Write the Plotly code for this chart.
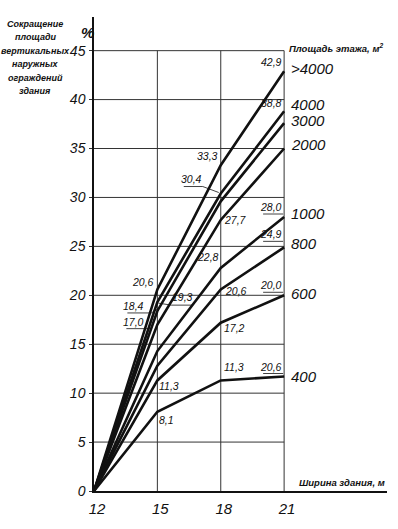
import plotly.graph_objects as go

# ---- data ----
widths = [12, 15, 18, 21]
x_ticks = [12, 15, 18, 21]
y_ticks = [0, 5, 10, 15, 20, 25, 30, 35, 40, 45]
areas = [">4000", "4000", "3000", "2000", "1000", "800", "600", "400"]
v_gt4000 = [0, 20.6, 33.3, 42.9]
v_4000 = [0, 19.3, 30.4, 38.8]
v_3000 = [0, 18.4, 29.6, 37.6]
v_2000 = [0, 17.0, 27.7, 35.0]
v_1000 = [0, 14.3, 22.8, 28.0]
v_800 = [0, 12.8, 20.6, 24.9]
v_600 = [0, 11.3, 17.2, 20.0]
v_400 = [0, 8.1, 11.3, 11.7]
series = [v_gt4000, v_4000, v_3000, v_2000, v_1000, v_800, v_600, v_400]

# printed value labels: (series index, point index, text)
value_labels = [
    (0, 3, "42,9"), (1, 3, "38,8"), (4, 3, "28,0"), (5, 3, "24,9"),
    (6, 3, "20,0"), (7, 3, "20,6"),
    (0, 2, "33,3"), (1, 2, "30,4"), (3, 2, "27,7"), (4, 2, "22,8"),
    (5, 2, "20,6"), (6, 2, "17,2"), (7, 2, "11,3"),
    (0, 1, "20,6"), (1, 1, "19,3"), (2, 1, "18,4"), (3, 1, "17,0"),
    (6, 1, "11,3"), (7, 1, "8,1"),
]
title_lines = ["Сокращение", "площади", "вертикальных", "наружных", "ограждений", "здания"]

# ---- style (label placement in pixels) ----
label_style = {
    (0, 3): dict(xanchor="right", yanchor="bottom", xshift=-1, yshift=2),
    (1, 3): dict(xanchor="right", yanchor="bottom", xshift=-1, yshift=1),
    (4, 3): dict(xanchor="right", yanchor="bottom", xshift=-1, yshift=3),
    (5, 3): dict(xanchor="right", yanchor="bottom", xshift=-1, yshift=6),
    (6, 3): dict(xanchor="right", yanchor="bottom", xshift=-1, yshift=3),
    (7, 3): dict(xanchor="right", yanchor="bottom", xshift=-1, yshift=3),
    (0, 2): dict(xanchor="right", yanchor="bottom", xshift=-2, yshift=2),
    (1, 2): dict(xanchor="right", yanchor="bottom", xshift=-18, yshift=8),
    (3, 2): dict(xanchor="left", yanchor="middle", xshift=2, yshift=0),
    (4, 2): dict(xanchor="right", yanchor="bottom", xshift=-1, yshift=4),
    (5, 2): dict(xanchor="left", yanchor="middle", xshift=3, yshift=-2),
    (6, 2): dict(xanchor="left", yanchor="middle", xshift=2, yshift=-5),
    (7, 2): dict(xanchor="left", yanchor="bottom", xshift=2, yshift=6),
    (0, 1): dict(xanchor="right", yanchor="bottom", xshift=-2, yshift=0),
    (1, 1): dict(xanchor="left", yanchor="bottom", xshift=14, yshift=-2),
    (2, 1): dict(xanchor="right", yanchor="bottom", xshift=-12, yshift=-2),
    (3, 1): dict(xanchor="right", yanchor="bottom", xshift=-12, yshift=-4),
    (6, 1): dict(xanchor="left", yanchor="top", xshift=1, yshift=1),
    (7, 1): dict(xanchor="left", yanchor="top", xshift=1, yshift=-1),
}
# shelf / leader paths (pixels relative to the data point)
leaders = {
    (4, 3): "M-21,3 L-1,3",
    (5, 3): "M-21,6 L-1,6",
    (6, 3): "M-21,3 L-1,3",
    (7, 3): "M-21,3 L-1,3",
    (1, 2): "M-37,7 L-18,7 L-2,1",
    (1, 1): "M35,-3 L14,-3 L1,-1",
    (2, 1): "M-30,-2 L-6,-2 L2,3",
    (3, 1): "M-31,-4 L-6,-4",
}
end_label_shift = [3, 7, 3, 4, 4, 4, 2, 0]

FONT = "Liberation Sans, Arial, sans-serif"
INK = "#111111"

fig = go.Figure()

# grid lines (only inside the 12..21 x 0..45 field)
for yv in y_ticks[1:]:
    fig.add_shape(type="line", xref="x", yref="y", x0=x_ticks[0], x1=x_ticks[-1],
                  y0=yv, y1=yv, line=dict(color="#333333", width=1), layer="below")
for xv in x_ticks[1:]:
    fig.add_shape(type="line", xref="x", yref="y", x0=xv, x1=xv,
                  y0=y_ticks[0], y1=y_ticks[-1], line=dict(color="#333333", width=1), layer="below")

for name, vals in zip(areas, series):
    fig.add_trace(go.Scatter(x=widths, y=vals, mode="lines", name=name,
                             line=dict(color=INK, width=2.6), showlegend=False,
                             hoverinfo="skip", cliponaxis=False))

# end labels (floor area)
for i, (name, vals) in enumerate(zip(areas, series)):
    fig.add_annotation(x=widths[-1], y=vals[-1], xref="x", yref="y", text=name,
                       showarrow=False, xanchor="left", yanchor="middle",
                       xshift=5, yshift=end_label_shift[i],
                       font=dict(family=FONT, size=15, color=INK, style="italic"))

# value labels
for si, pi, txt in value_labels:
    st = label_style[(si, pi)]
    fig.add_annotation(x=widths[pi], y=series[si][pi], xref="x", yref="y", text=txt,
                       showarrow=False, borderpad=0,
                       font=dict(family=FONT, size=10.5, color=INK, style="italic"), **st)
    if (si, pi) in leaders:
        fig.add_shape(type="path", xref="x", yref="y", xsizemode="pixel", ysizemode="pixel",
                      xanchor=widths[pi], yanchor=series[si][pi], path=leaders[(si, pi)],
                      line=dict(color=INK, width=0.8))

# titles
title_font = dict(family=FONT, size=9, color=INK, style="italic", weight="bold")
for k, line in enumerate(title_lines):
    fig.add_annotation(xref="paper", yref="paper", x=0, y=1, xshift=-59, yshift=-(7 + 13.4 * k),
                       xanchor="center", yanchor="middle", showarrow=False,
                       text=line, font=title_font)
fig.add_annotation(xref="paper", yref="paper", x=0, y=1, xshift=-7, yshift=-15,
                   xanchor="center", yanchor="middle", showarrow=False, text="%",
                   font=dict(family=FONT, size=15, color=INK, style="italic", weight="bold"))
fig.add_annotation(xref="paper", yref="paper", x=0.826, y=1, yshift=-31,
                   xanchor="center", yanchor="middle", showarrow=False,
                   text="Площадь этажа, м<sup>2</sup>",
                   font=dict(family=FONT, size=9.5, color=INK, style="italic", weight="bold"))
fig.add_annotation(xref="paper", yref="paper", x=0.846, y=0, yshift=1,
                   xanchor="center", yanchor="bottom", showarrow=False,
                   text="Ширина здания, м",
                   font=dict(family=FONT, size=9.5, color=INK, style="italic", weight="bold"))

fig.update_xaxes(range=[12, 25.87], tickvals=x_ticks, ticktext=[str(v) for v in x_ticks],
                 showgrid=False, zeroline=False, showline=True, linecolor=INK, linewidth=1.5,
                 ticks="", ticklabelstandoff=3, ticklabelshift=3,
                 tickfont=dict(family=FONT, size=15, color=INK, style="italic"))
fig.update_yaxes(range=[0, 48.44], tickvals=y_ticks, ticktext=[str(v) for v in y_ticks],
                 showgrid=False, zeroline=False, showline=True, linecolor=INK, linewidth=1.5,
                 ticks="outside", ticklen=3, tickcolor="#333333", ticklabelstandoff=1,
                 tickfont=dict(family=FONT, size=14, color=INK, style="italic"))

fig.update_layout(width=398, height=529, margin=dict(l=94, r=11, t=17, b=38),
                  plot_bgcolor="white", paper_bgcolor="white", showlegend=False)

fig.write_html("out.html")
